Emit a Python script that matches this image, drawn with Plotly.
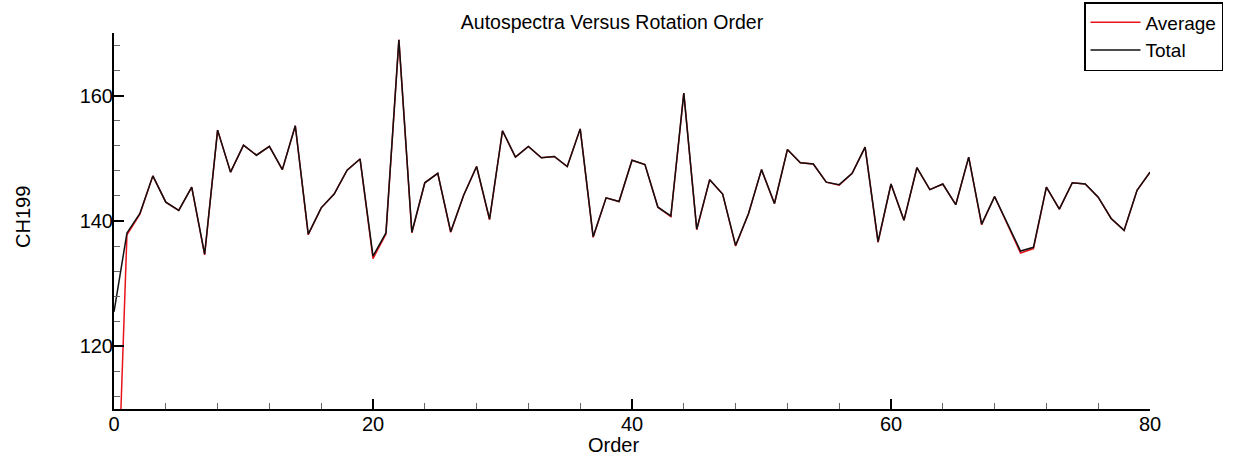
import plotly.graph_objects as go

order = list(range(81))
total = [125.5, 138.1, 141.2, 147.2, 143.0, 141.7, 145.4, 134.7, 154.5, 147.8,
         152.1, 150.5, 151.9, 148.2, 155.2, 137.9, 142.1, 144.3, 148.1, 149.9,
         134.4, 138.1, 168.9, 138.2, 146.1, 147.6, 138.3, 144.1, 148.7, 140.3,
         154.4, 150.2, 151.9, 150.1, 150.3, 148.7, 154.7, 137.5, 143.7, 143.1,
         149.7, 149.0, 142.2, 140.8, 160.4, 138.7, 146.6, 144.3, 136.1, 141.2,
         148.2, 142.8, 151.4, 149.3, 149.1, 146.2, 145.8, 147.6, 151.8, 136.7,
         145.9, 140.1, 148.5, 145.0, 145.9, 142.6, 150.2, 139.5, 143.9, 139.5,
         135.2, 135.8, 145.4, 141.9, 146.1, 145.9, 143.8, 140.4, 138.5, 144.9,
         147.8]
average = [78.0, 137.8, 141.1, 147.2, 143.0, 141.7, 145.4, 134.6, 154.5, 147.8,
           152.1, 150.5, 151.9, 148.2, 155.2, 137.8, 142.1, 144.3, 148.1, 149.9,
           134.0, 137.9, 168.9, 138.1, 146.1, 147.6, 138.2, 144.1, 148.7, 140.2,
           154.4, 150.2, 151.9, 150.1, 150.3, 148.7, 154.7, 137.4, 143.7, 143.1,
           149.7, 149.0, 142.2, 140.7, 160.4, 138.6, 146.6, 144.3, 136.0, 141.2,
           148.2, 142.8, 151.4, 149.3, 149.1, 146.2, 145.7, 147.6, 151.8, 136.6,
           145.9, 140.1, 148.5, 145.0, 145.9, 142.6, 150.2, 139.4, 143.9, 139.4,
           134.9, 135.6, 145.4, 141.9, 146.1, 145.9, 143.8, 140.4, 138.5, 144.9,
           147.8]

x_ticks = [0, 20, 40, 60, 80]
y_ticks = [120, 140, 160]

FONT = "Liberation Sans, Arial, sans-serif"

W, H = 1251, 461
L, R, T, B = 114, 1251 - 1150, 33, 461 - 409
PW, PH = W - L - R, H - T - B

fig = go.Figure()
fig.add_trace(go.Scatter(x=order, y=average, mode="lines", name="Average",
                         line=dict(color="#e8141c", width=1.5)))
fig.add_trace(go.Scatter(x=order, y=total, mode="lines", name="Total",
                         line=dict(color="#111111", width=1.5)))

axis_common = dict(showline=True, linecolor="black", linewidth=2,
                   showgrid=False, zeroline=False, ticks="inside",
                   ticklen=10, tickwidth=1.5, tickcolor="black",
                   tickfont=dict(family=FONT, size=20, color="black"),
                   minor=dict(ticks="inside", ticklen=6, tickwidth=1,
                              tickcolor="#666666", dtick=4, showgrid=False))

fig.update_xaxes(range=[0, 80], tickvals=x_ticks, ticklabelstandoff=-4,
                 automargin=False, **axis_common)
fig.update_yaxes(range=[110, 170], tickvals=y_ticks, ticklabelstandoff=-5,
                 automargin=False, **axis_common)

def px_x(px):
    return (px - L) / PW

def px_y(py):
    return (409 - py) / PH

fig.update_layout(
    width=W, height=H,
    margin=dict(l=L, r=R, t=T, b=B, pad=0, autoexpand=False),
    paper_bgcolor="white", plot_bgcolor="white",
    font=dict(family=FONT, size=20, color="black"),
    title=dict(text="Autospectra Versus Rotation Order",
               x=612 / W, xanchor="center",
               y=1 - 22 / H, yanchor="middle",
               font=dict(family=FONT, size=19.5, color="black")),
    showlegend=True,
    legend=dict(x=px_x(1084), y=px_y(2), xanchor="left", yanchor="top",
                bordercolor="black", borderwidth=1.5, bgcolor="white",
                font=dict(family=FONT, size=19, color="black"),
                tracegroupgap=0, itemwidth=50),
    annotations=[
        dict(text="Order", x=px_x(613), y=px_y(445),
             xref="paper", yref="paper", showarrow=False,
             xanchor="center", yanchor="middle",
             font=dict(family=FONT, size=20, color="black")),
        dict(text="CH199", x=px_x(23), y=px_y(217),
             xref="paper", yref="paper", showarrow=False, textangle=-90,
             xanchor="center", yanchor="middle",
             font=dict(family=FONT, size=20, color="black")),
    ],
)

fig.write_html("out.html", config={"displayModeBar": False},
               post_script="document.body.style.margin='0px';document.body.style.overflow='hidden';")
